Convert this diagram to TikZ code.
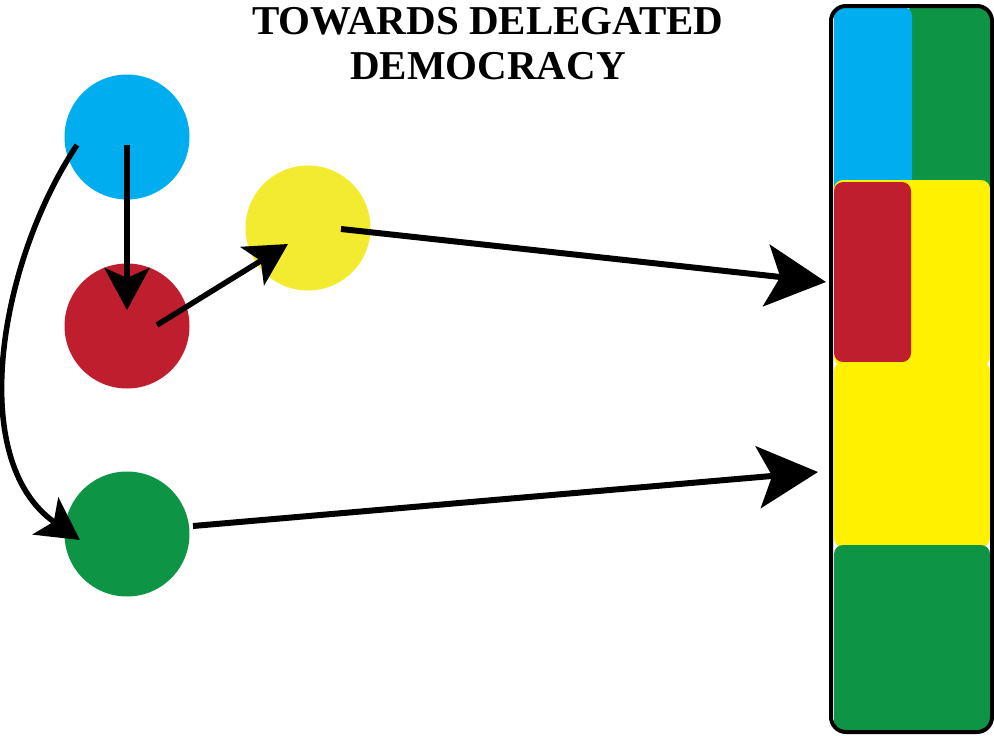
\documentclass[tikz,border=0pt]{standalone}
\usepackage{fontspec}
\setmainfont{Liberation Serif}
\usetikzlibrary{arrows.meta,calc}
\definecolor{cblue}{HTML}{00AEEF}
\definecolor{cred}{HTML}{BE1E2D}
\definecolor{cyel}{HTML}{F2EB30}
\definecolor{byel}{HTML}{FFF100}
\definecolor{cgreen}{HTML}{0D9445}
\tikzset{
  dot/.style={circle, minimum size=125pt, inner sep=0pt, draw=none},
  block/.style={rounded corners=9pt, draw=none},
  flow/.style={line width=6pt, -{Stealth[length=60pt, width=62pt, inset=14pt]}},
  smallflow/.style={line width=5.5pt, -{Stealth[length=42pt, width=45pt, inset=10pt]}},
}
\begin{document}
\begin{tikzpicture}[x=1pt, y=-1pt]
  \useasboundingbox (0,0) rectangle (994,736);

  % title
  \node[align=center, font=\fontsize{41}{45}\selectfont\bfseries] (title) at (488,44)
    {TOWARDS DELEGATED\\DEMOCRACY};

  % voters
  \node[dot, fill=cblue] (blue) at (127,137) {};
  \node[dot, fill=cred] (red) at (127,326) {};
  \node[dot, fill=cyel] (yellow) at (308,228) {};
  \node[dot, fill=cgreen] (green) at (127,534) {};

  % the parliament bar, stacked seats
  \fill[cgreen, block] (905,7) rectangle (990,195);
  \fill[cblue, block] (834,7) rectangle (912,195);
  \fill[byel, block] (834,180) rectangle (990,366);
  \fill[cred, block] (834,182) rectangle (911,362);
  \fill[byel, block] (834,362) rectangle (990,547);
  \fill[cgreen, block] (834,545) rectangle (990,730);
  \node[draw=black, line width=4pt, rounded corners=15pt, minimum width=161pt,
        minimum height=726pt, inner sep=0pt] (bar) at (911.5,369) {};

  % delegation arrows
  \coordinate (seatA) at (826,282);
  \coordinate (seatB) at (818,472);
  \draw[smallflow] ($(blue.center)+(0,8)$) -- ($(red.center)+(0,-16)$);
  \draw[smallflow] ($(red.center)+(30,-1)$) -- ($(yellow.center)+(-20,16)$);
  \draw[flow] ($(yellow.center)+(33,1)$) -- (seatA);
  \draw[flow] ($(green.center)+(66,-8)$) -- (seatB);
  \draw[smallflow] ($(blue.center)+(-50,8)$) .. controls (0,260) and (-35,460) .. ($(green.center)+(-47,6)$);
\end{tikzpicture}
\end{document}
